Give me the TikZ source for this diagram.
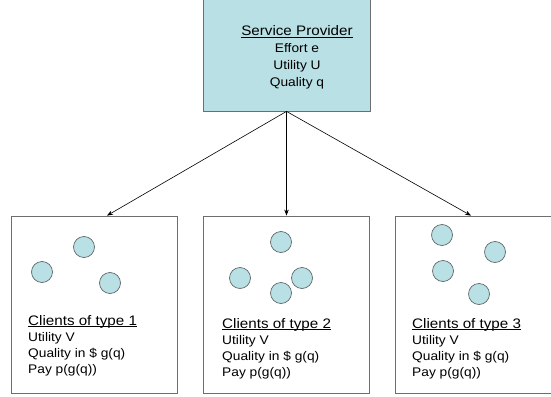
\documentclass[tikz,border=0pt]{standalone}
\usepackage{fontspec}
\setmainfont[FakeStretch=1.1]{Liberation Sans}
\usetikzlibrary{arrows.meta}
\definecolor{fillc}{RGB}{185,224,228}
\definecolor{circline}{RGB}{95,105,105}
\definecolor{boxline}{RGB}{110,110,110}
\newcommand\myul[1]{\setbox0\hbox{#1}\rlap{\rule[-2.2pt]{\wd0}{0.8pt}}#1}
\newcommand\ttl[1]{{\fontsize{13.8}{16}\selectfont\myul{#1}}}
\begin{document}
\begin{tikzpicture}[x=1pt,y=1pt,
  provider/.style={draw=boxline,fill=fillc,line width=0.8pt,minimum width=167pt,minimum height=120pt,inner sep=0pt},
  clientbox/.style={draw=boxline,line width=0.8pt,minimum width=166pt,minimum height=177pt,inner sep=0pt},
  client/.style={circle,draw=circline,fill=fillc,line width=0.7pt,minimum size=21pt,inner sep=0pt},
  desc/.style={anchor=base west,inner sep=0pt,align=left,font=\fontsize{12.5}{16}\selectfont},
  ptext/.style={anchor=base,inner sep=0pt,align=center,font=\fontsize{12.5}{16.8}\selectfont},
  link/.style={line width=0.6pt,-{Stealth[length=6pt,width=4.5pt]}}]
\useasboundingbox (0,0) rectangle (551,-396);
% provider box
\node[provider] (P) at (286.5,-51) {};
\node[ptext] (Pt) at (297,-86) {\ttl{Service Provider}\\Effort e\\Utility U\\Quality q};
% client boxes
\node[clientbox] (B1) at (94,-304.5) {};
\node[clientbox] (B2) at (286.5,-304.5) {};
\node[clientbox] (B3) at (478,-304.5) {};
% arrows
\draw[link] (P.south) -- ([xshift=13pt]B1.north);
\draw[link] (P.south) -- (B2.north);
\draw[link] (P.south) -- ([xshift=-7pt]B3.north);
% circles box 1
\node[client] (c11) at (84,-247) {};
\node[client] (c12) at (42,-272) {};
\node[client] (c13) at (110,-283) {};
% circles box 2
\node[client] (c21) at (281,-242) {};
\node[client] (c22) at (240,-278) {};
\node[client] (c23) at (302,-278) {};
\node[client] (c24) at (281,-293) {};
% circles box 3
\node[client] (c31) at (442,-235) {};
\node[client] (c32) at (495,-252) {};
\node[client] (c33) at (443,-271) {};
\node[client] (c34) at (479,-294) {};
% texts
\node[desc] (t1) at (28,-373) {\ttl{Clients of type 1}\\Utility V\\Quality in \$ g(q)\\Pay p(g(q))};
\node[desc] (t2) at (222,-376) {\ttl{Clients of type 2}\\Utility V\\Quality in \$ g(q)\\Pay p(g(q))};
\node[desc] (t3) at (412,-376) {\ttl{Clients of type 3}\\Utility V\\Quality in \$ g(q)\\Pay p(g(q))};
\end{tikzpicture}
\end{document}
